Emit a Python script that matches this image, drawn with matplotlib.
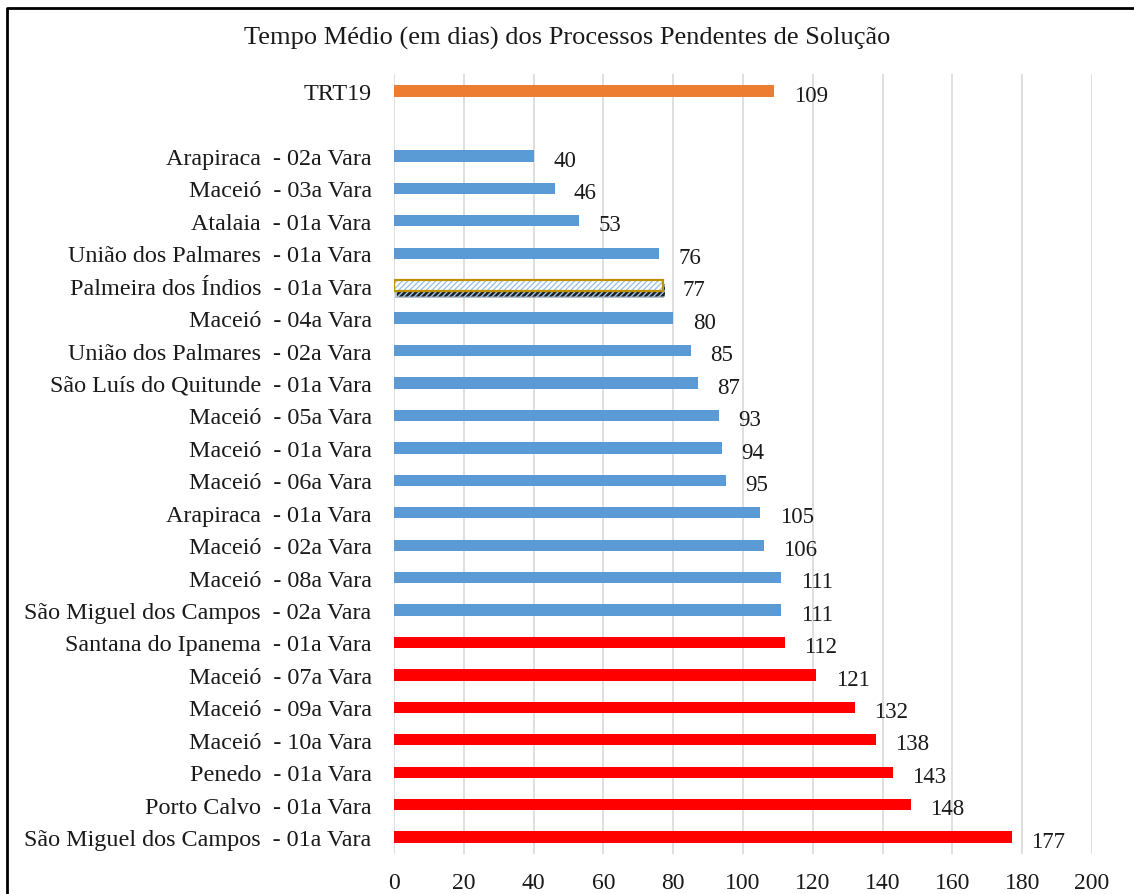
import matplotlib
matplotlib.use("Agg")
import matplotlib.pyplot as plt
import matplotlib.patheffects as pe
from matplotlib.lines import Line2D

plt.rcParams["font.family"] = ["Liberation Serif", "DejaVu Serif"]
plt.rcParams["hatch.linewidth"] = 1.0

TITLE = "Tempo Médio (em dias) dos Processos Pendentes de Solução"

# regional average, shown on its own above the list
TOTAL_LABEL = "TRT19"
TOTAL_VALUE = 109

varas = [
    "Arapiraca  - 02a Vara", "Maceió  - 03a Vara", "Atalaia  - 01a Vara",
    "União dos Palmares  - 01a Vara", "Palmeira dos Índios  - 01a Vara",
    "Maceió  - 04a Vara", "União dos Palmares  - 02a Vara",
    "São Luís do Quitunde  - 01a Vara", "Maceió  - 05a Vara", "Maceió  - 01a Vara",
    "Maceió  - 06a Vara", "Arapiraca  - 01a Vara", "Maceió  - 02a Vara",
    "Maceió  - 08a Vara", "São Miguel dos Campos  - 02a Vara",
    "Santana do Ipanema  - 01a Vara", "Maceió  - 07a Vara", "Maceió  - 09a Vara",
    "Maceió  - 10a Vara", "Penedo  - 01a Vara", "Porto Calvo  - 01a Vara",
    "São Miguel dos Campos  - 01a Vara",
]
dias = [40, 46, 53, 76, 77, 80, 85, 87, 93, 94, 95, 105, 106, 111, 111,
        112, 121, 132, 138, 143, 148, 177]
# "ok" = blue, "alto" = red
faixa = ["ok"] * 15 + ["alto"] * 7
destaque = "Palmeira dos Índios  - 01a Vara"

x_ticks = [0, 20, 40, 60, 80, 100, 120, 140, 160, 180, 200]

ORANGE = "#ED7D31"
BLUE = "#5B9BD5"
RED = "#FF0000"
GOLD = "#BF9000"
TXT = "#1a1a1a"

fig = plt.figure(figsize=(11.34, 8.95), dpi=100)
ax = fig.add_axes([0.3474, 0.0447, 0.9630 - 0.3474, 0.916 - 0.0447])

h = 0.35
ax.barh(-2, TOTAL_VALUE, height=h, color=ORANGE, zorder=3)
for i, (lab, v, f) in enumerate(zip(varas, dias, faixa)):
    if lab == destaque:
        b = ax.barh(i, v, height=h, color="white", edgecolor="#9DC3E6", hatch="//////",
                    linewidth=0, zorder=3)
        # soft drop shadow: a few stacked offsets
        shadows = [pe.SimplePatchShadow(offset=(dx, dy), shadow_rgbFace="black", alpha=a)
                   for dx, dy, a in [(1, -5, 0.25), (2, -4, 0.45), (2, -3, 0.7)]]
        b[0].set_path_effects(shadows + [pe.Normal()])
        ax.barh(i, v, height=h, fill=False, edgecolor=GOLD, linewidth=1.6, zorder=4)
    else:
        ax.barh(i, v, height=h, color=BLUE if f == "ok" else RED, zorder=3)

pos = [-2] + list(range(len(varas)))
vals = [TOTAL_VALUE] + dias
for y, v in zip(pos, vals):
    ax.annotate(str(v), (v, y), xytext=(14, -3), textcoords="offset points",
                ha="left", va="center", fontsize=16.5, color=TXT)

ax.set_yticks(pos)
ax.set_yticklabels([TOTAL_LABEL] + varas, fontsize=17.4, color=TXT)
ax.set_xticks(x_ticks)
ax.set_xticklabels([str(t) for t in x_ticks], fontsize=17, color=TXT)
ax.tick_params(axis="both", length=0)
ax.tick_params(axis="y", pad=16)
ax.tick_params(axis="x", pad=13)
ax.set_xlim(0, 200)
ax.set_ylim(21.52, -2.52)
ax.grid(axis="x", color="#D9D9D9", linewidth=1.2, zorder=0)
ax.set_axisbelow(True)
for s in ax.spines.values():
    s.set_visible(False)

fig.text(0.5, 1 - 38 / 895, TITLE, ha="center", va="center", fontsize=19, color=TXT)

# frame edges on the top and left
fx = 7 / 1134
fy = 1 - 9 / 895
fig.add_artist(Line2D([fx, fx, 1], [0, fy, fy], transform=fig.transFigure,
                      color="black", linewidth=2))

fig.savefig("out.png", dpi=100, facecolor="white")
